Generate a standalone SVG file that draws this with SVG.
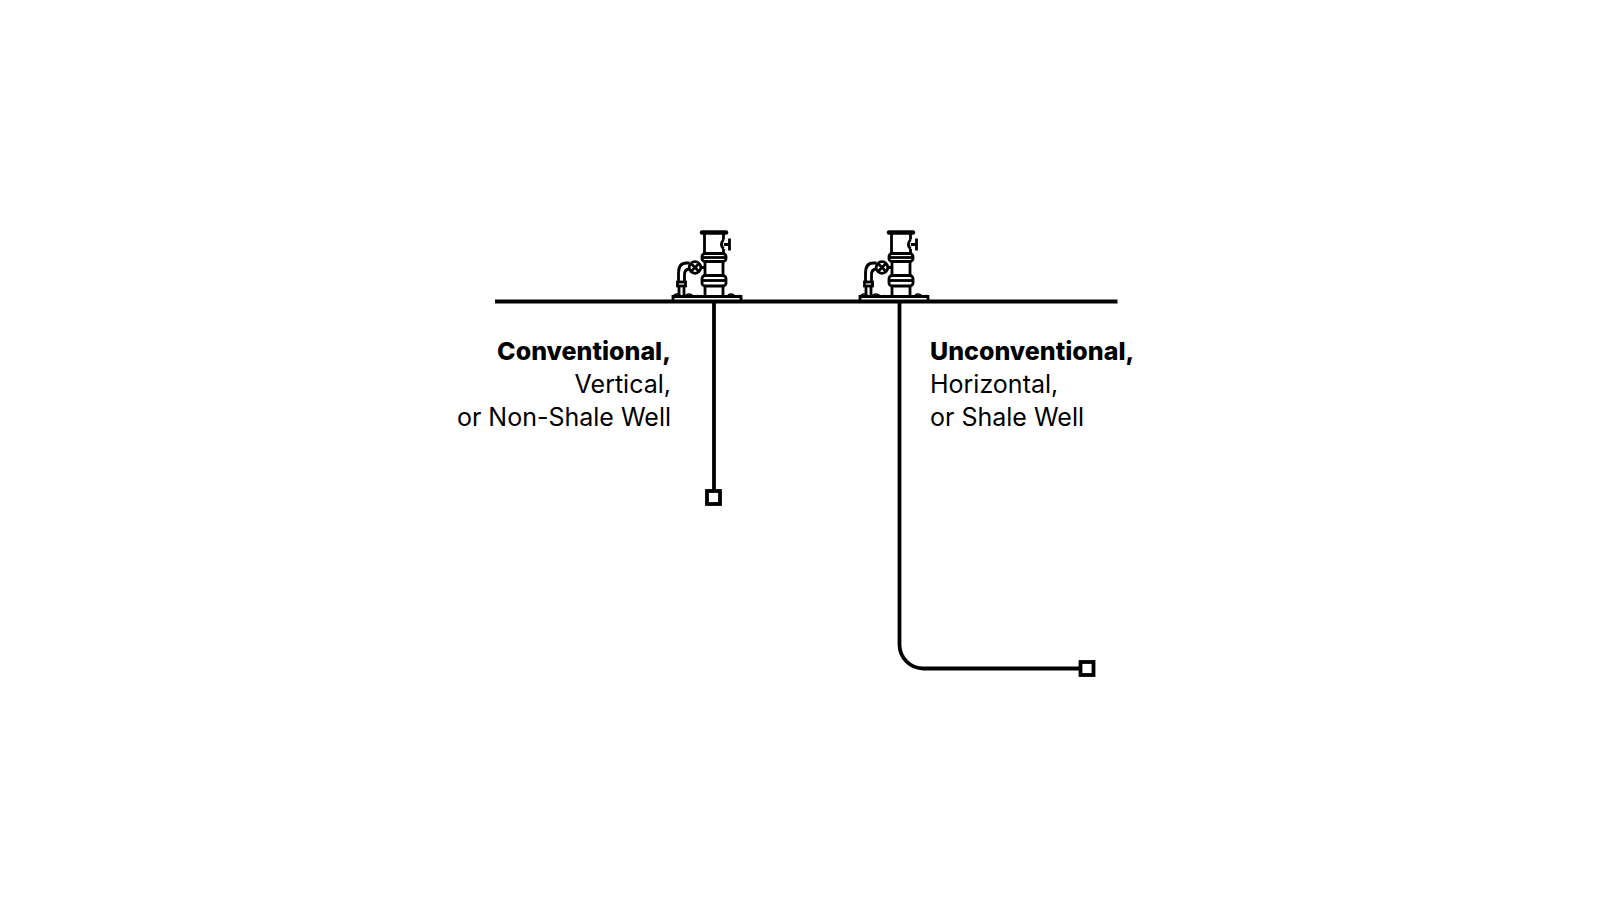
<svg xmlns="http://www.w3.org/2000/svg" width="1600" height="900" viewBox="0 0 1600 900">
<style>
.l{fill:none;stroke:#000;stroke-width:2.800}
.w{fill:none;stroke:#000;stroke-width:3.800}
.sq{fill:#fff;stroke:#000;stroke-width:3.800}
text{font-family:"Inter","Open Sans","Liberation Sans",sans-serif;font-size:25px;fill:#000}
.b{font-weight:800}
.e{text-anchor:end}
</style>
<defs>
<g id="wh">
<path class="l" d="M704 233.500H728" style="stroke-width:4.500;stroke-linecap:round"/>
<path class="l" d="M706.500 235V254M725.500 235V240.500M725.500 250V254M725.500 240.500Q721.500 245.500 725.500 250"/>
<path class="l" d="M726 245.500H731.500M731.500 239.500V251.500"/>
<rect class="l" x="704" y="254.500" width="24" height="8" rx="3"/>
<path class="l" d="M704 258.500H728"/>
<path class="l" d="M707 262.500V277M725 262.500V277"/>
<rect class="l" x="704" y="276.500" width="24" height="10.500" rx="3"/>
<path class="l" d="M704 281.500H728"/>
<path class="l" d="M707 287V298M725 287V298"/>
<circle class="l" cx="697" cy="268.500" r="5.800"/>
<path class="l" d="M693 264.500L701 272.500M701 264.500L693 272.500M703 268.500H707"/>
<path class="l" d="M691.500 264H688.500Q680.500 264 680.500 274V283M691.500 270H691.500Q686.500 270 686.500 276V283"/>
<rect class="l" x="679.500" y="283" width="8" height="4"/>
<path class="l" d="M681 287V296M686 287V296"/>
<path class="l" d="M675 302V297.500H743V302"/>
<path class="l" d="M676 296Q679 294 682 296T688 296T694 296T700 296M730 296Q733 294 736 296T742 296" style="stroke-width:1.500"/>
</g>
</defs>
<g id="connectors">
<path id="ground" class="w" d="M495 301.500H1117.500"/>
<path id="vertical-bore" class="w" d="M714 301.500V491"/>
<path id="horizontal-bore" class="w" d="M899.500 301.500V644.500A24 24 0 0 0 923.500 668.500H1081"/>
</g>
<g id="conventional-well">
<use href="#wh" x="-2" y="-1"/>
<rect class="sq" x="707" y="491" width="13" height="13"/>
<text class="b e" x="671" y="359.500">Conventional,</text>
<text class="e" x="671" y="392.500">Vertical,</text>
<text class="e" x="671" y="425.500">or Non-Shale Well</text>
</g>
<g id="unconventional-well">
<use href="#wh" x="185" y="-1"/>
<rect class="sq" x="1080.500" y="662" width="13" height="13"/>
<text class="b" x="930" y="359.500">Unconventional,</text>
<text x="930" y="392.500">Horizontal,</text>
<text x="930" y="425.500">or Shale Well</text>
</g>
</svg>
